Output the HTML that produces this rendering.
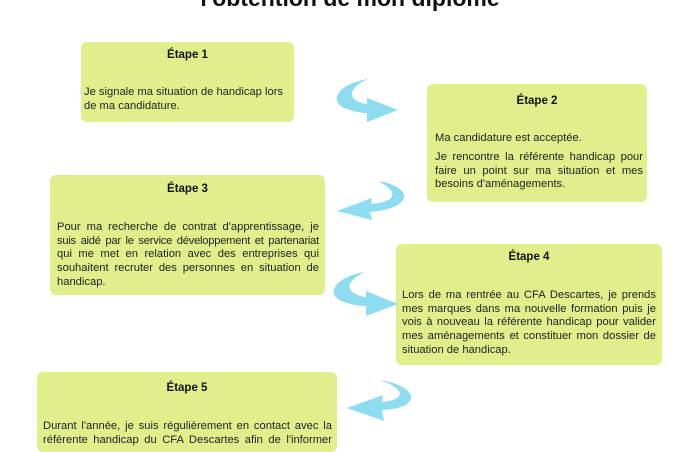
<!DOCTYPE html>
<html><head><meta charset="utf-8"><style>
body{margin:0;width:700px;height:441px;overflow:hidden;background:#fff;position:relative;font-family:"Liberation Sans",sans-serif;color:#222}
.t{position:absolute;left:0;width:700px;top:-15px;text-align:center;font-weight:bold;font-size:23px;color:#111;white-space:nowrap}
.b{position:absolute;background:#e0ef8b;border-radius:6px}
.h{position:absolute;font-weight:bold;font-size:11.5px;text-align:center;color:#111}
.l{position:absolute;font-size:11.2px;line-height:13.7px;white-space:nowrap}
.j{text-align:justify;text-align-last:justify;white-space:nowrap}
.s{letter-spacing:-0.25px}
svg{position:absolute;left:0;top:0}
</style></head><body>
<div class="t">l'obtention de mon diplôme</div>

<div class="b" style="left:81px;top:42px;width:213px;height:80px"></div>
<div class="h" style="left:81px;top:49px;width:213px">Étape 1</div>
<div class="l" style="left:84px;top:86px">Je signale ma situation de handicap lors<br>de ma candidature.</div>

<div class="b" style="left:427px;top:84px;width:220px;height:118px"></div>
<div class="h" style="left:427px;top:95px;width:220px">Étape 2</div>
<div class="l" style="left:435px;top:132px">Ma candidature est acceptée.</div>
<div class="l" style="left:435px;top:151px;width:208px;white-space:normal"><div class="j">Je rencontre la référente handicap pour</div><div class="j">faire un point sur ma situation et mes</div><div style="white-space:nowrap">besoins d'aménagements.</div></div>

<div class="b" style="left:50px;top:175px;width:275px;height:120px"></div>
<div class="h" style="left:50px;top:183px;width:275px">Étape 3</div>
<div class="l" style="left:57px;top:221px;width:262px;white-space:normal"><div class="j">Pour ma recherche de contrat d'apprentissage, je</div><div class="j s">suis aidé par le service développement et partenariat</div><div class="j">qui me met en relation avec des entreprises qui</div><div class="j">souhaitent recruter des personnes en situation de</div><div>handicap.</div></div>

<div class="b" style="left:396px;top:244px;width:266px;height:121px"></div>
<div class="h" style="left:396px;top:251px;width:266px">Étape 4</div>
<div class="l" style="left:402px;top:289px;width:254px;white-space:normal"><div class="j">Lors de ma rentrée au CFA Descartes, je prends</div><div class="j">mes marques dans ma nouvelle formation puis je</div><div class="j">vois à nouveau la référente handicap pour valider</div><div class="j">mes aménagements et constituer mon dossier de</div><div>situation de handicap.</div></div>

<div class="b" style="left:37px;top:372px;width:300px;height:80px"></div>
<div class="h" style="left:37px;top:382px;width:300px">Étape 5</div>
<div class="l" style="left:43px;top:420px;width:289px;white-space:normal"><div class="j">Durant l'année, je suis régulièrement en contact avec la</div><div class="j">référente handicap du CFA Descartes afin de l'informer</div></div>

<svg width="700" height="441" viewBox="0 0 700 441">
<g fill="#8ddcf0">
<path d="M368,79 C336,84 326,104 350,110 C356,112 362,113 367,113 L367,122 L398,110 L367,98 L367,104 C350,102 344,90 368,79 Z"/>
<path d="M378,181 C412,186 416,208 370,212 L372,220 L337,211 L372,198 L371,204 C396,202 400,192 378,181 Z"/>
<path d="M365,272 C333,277 323,297 347,303 C353,305 360,306 366,306 L366,316 L398,304 L366,291 L366,297 C348,295 341,283 365,272 Z"/>
<path d="M380,380 C418,386 424,408 382,410 L384,421 L347,408 L383,395 L382,402 C404,400 408,390 380,380 Z"/>
</g></svg>
</body></html>
